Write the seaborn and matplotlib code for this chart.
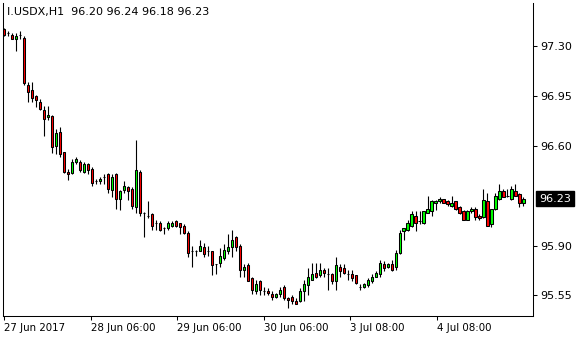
import numpy as np
import pandas as pd
import matplotlib
matplotlib.use("Agg")
import matplotlib.pyplot as plt
import seaborn as sns
from matplotlib.transforms import blended_transform_factory

# ---- data (H1 candles, I.USDX) ----
opens = [97.42, 97.39, 97.38, 97.35, 97.38, 97.36, 97.03, 96.99, 96.95, 96.91,
         96.85, 96.80, 96.81, 96.60, 96.70, 96.56, 96.42, 96.41, 96.49, 96.49,
         96.42, 96.47, 96.44, 96.35, 96.35, 96.38, 96.40, 96.29, 96.40, 96.23,
         96.29, 96.31, 96.30, 96.17, 96.42, 96.13, 96.11, 96.12, 96.06, 96.06,
         96.02, 96.02, 96.04, 96.07, 96.06, 96.04, 95.99, 95.86, 95.86, 95.86,
         95.89, 95.86, 95.86, 95.77, 95.78, 95.81, 95.86, 95.89, 95.96, 95.90,
         95.73, 95.76, 95.67, 95.58, 95.65, 95.58, 95.58, 95.56, 95.54, 95.56,
         95.61, 95.53, 95.54, 95.51, 95.51, 95.58, 95.62, 95.66, 95.71, 95.69,
         95.73, 95.70, 95.70, 95.65, 95.75, 95.74, 95.70, 95.70, 95.69, 95.61,
         95.61, 95.62, 95.65, 95.68, 95.70, 95.77, 95.75, 95.77, 95.75, 95.85,
         96.00, 96.01, 96.04, 96.11, 96.07, 96.06, 96.13, 96.14, 96.20, 96.21,
         96.23, 96.21, 96.18, 96.21, 96.17, 96.14, 96.08, 96.14, 96.16, 96.11,
         96.10, 96.21, 96.05, 96.16, 96.23, 96.28, 96.25, 96.23, 96.28, 96.26,
         96.20]
highs = [97.43, 97.41, 97.39, 97.39, 97.41, 97.37, 97.05, 97.05, 96.96, 96.93,
         96.88, 96.88, 96.82, 96.72, 96.73, 96.56, 96.44, 96.51, 96.52, 96.50,
         96.49, 96.48, 96.45, 96.37, 96.38, 96.40, 96.41, 96.40, 96.41, 96.29,
         96.35, 96.32, 96.31, 96.64, 96.43, 96.135, 96.21, 96.13, 96.08, 96.07,
         96.03, 96.07, 96.07, 96.08, 96.06, 96.05, 96.00, 95.90, 95.87, 95.94,
         95.92, 95.90, 95.86, 95.77, 95.88, 95.91, 95.98, 96.01, 95.97, 95.91,
         95.77, 95.78, 95.68, 95.66, 95.66, 95.61, 95.60, 95.58, 95.57, 95.61,
         95.62, 95.54, 95.55, 95.53, 95.60, 95.66, 95.74, 95.78, 95.78, 95.78,
         95.74, 95.74, 95.71, 95.82, 95.77, 95.77, 95.73, 95.73, 95.69, 95.63,
         95.64, 95.67, 95.70, 95.72, 95.80, 95.79, 95.78, 95.80, 95.87, 96.01,
         96.02, 96.08, 96.14, 96.14, 96.14, 96.14, 96.25, 96.22, 96.22, 96.24,
         96.23, 96.22, 96.25, 96.21, 96.18, 96.15, 96.15, 96.17, 96.17, 96.12,
         96.30, 96.27, 96.16, 96.27, 96.33, 96.30, 96.30, 96.32, 96.33, 96.27,
         96.24]
lows = [97.37, 97.37, 97.35, 97.27, 97.35, 97.03, 96.91, 96.91, 96.87, 96.85,
        96.67, 96.78, 96.55, 96.54, 96.52, 96.41, 96.36, 96.40, 96.47, 96.42,
        96.41, 96.40, 96.32, 96.33, 96.33, 96.33, 96.27, 96.24, 96.16, 96.15,
        96.27, 96.22, 96.16, 96.13, 96.11, 95.96, 96.09, 96.01, 96.01, 96.00,
        95.98, 96.01, 96.03, 96.03, 95.98, 95.98, 95.82, 95.75, 95.83, 95.86,
        95.82, 95.83, 95.69, 95.70, 95.75, 95.80, 95.84, 95.82, 95.86, 95.68,
        95.68, 95.65, 95.56, 95.56, 95.55, 95.55, 95.55, 95.52, 95.53, 95.54,
        95.52, 95.46, 95.49, 95.49, 95.50, 95.51, 95.55, 95.66, 95.67, 95.68,
        95.68, 95.59, 95.63, 95.59, 95.68, 95.70, 95.66, 95.65, 95.63, 95.59,
        95.60, 95.61, 95.64, 95.68, 95.68, 95.72, 95.74, 95.72, 95.73, 95.84,
        95.94, 96.00, 96.03, 96.00, 96.05, 96.05, 96.13, 96.11, 96.15, 96.20,
        96.20, 96.18, 96.17, 96.15, 96.12, 96.08, 96.08, 96.13, 96.08, 96.08,
        96.09, 96.04, 96.03, 96.15, 96.22, 96.24, 96.24, 96.22, 96.25, 96.17,
        96.18]
closes = [97.38, 97.39, 97.35, 97.37, 97.38, 97.04, 96.98, 96.94, 96.92, 96.86,
          96.79, 96.82, 96.59, 96.69, 96.54, 96.42, 96.40, 96.49, 96.51, 96.43,
          96.47, 96.43, 96.34, 96.35, 96.37, 96.38, 96.30, 96.38, 96.23, 96.28,
          96.32, 96.28, 96.18, 96.43, 96.13, 96.13, 96.11, 96.04, 96.06, 96.01,
          96.02, 96.06, 96.06, 96.04, 96.03, 95.99, 95.85, 95.86, 95.86, 95.90,
          95.84, 95.86, 95.76, 95.77, 95.83, 95.87, 95.89, 95.94, 95.89, 95.73,
          95.75, 95.65, 95.59, 95.63, 95.59, 95.58, 95.57, 95.54, 95.56, 95.59,
          95.53, 95.52, 95.51, 95.49, 95.58, 95.63, 95.68, 95.70, 95.68, 95.73,
          95.71, 95.70, 95.65, 95.76, 95.72, 95.71, 95.70, 95.67, 95.64, 95.61,
          95.63, 95.66, 95.68, 95.71, 95.78, 95.74, 95.77, 95.73, 95.85, 95.99,
          96.02, 96.06, 96.12, 96.06, 96.07, 96.14, 96.16, 96.21, 96.21, 96.23,
          96.20, 96.19, 96.20, 96.16, 96.13, 96.08, 96.14, 96.16, 96.10, 96.09,
          96.22, 96.04, 96.16, 96.25, 96.28, 96.24, 96.25, 96.30, 96.25, 96.20,
          96.23]

x_tick_labels = ["27 Jun 2017", "28 Jun 06:00", "29 Jun 06:00",
                 "30 Jun 06:00", "3 Jul 08:00", "4 Jul 08:00"]
y_tick_values = [95.55, 95.90, 96.60, 96.95, 97.30]
symbol = "I.USDX,H1"

# ---- build frame ----
df = pd.DataFrame({"open": opens, "high": highs, "low": lows, "close": closes})
df["idx"] = np.arange(len(df))
df["bottom"] = df[["open", "close"]].min(axis=1)
df["height"] = (df["close"] - df["open"]).abs()
df["color"] = np.where(df["close"] > df["open"], "#00ff00",
                       np.where(df["close"] < df["open"], "#ff0000", "black"))

sns.set_theme(style="white")
plt.rcParams["font.family"] = ["DejaVu Sans"]

fig = plt.figure(figsize=(5.8, 3.4), dpi=100)
fig.patch.set_facecolor("white")
ax = fig.add_axes([3 / 580, 24 / 340, 530 / 580, 313 / 340])
ax.set_facecolor("white")

# wicks
ax.vlines(df["idx"], df["low"], df["high"], color="black", lw=0.8, zorder=1)
# bodies
ax.bar(df["idx"], df["height"], bottom=df["bottom"], width=0.55,
       color=df["color"], edgecolor="black", linewidth=0.75, zorder=2)

n = len(df)
ax.set_xlim(-0.3, 132.4)
ax.set_ylim(95.405, 97.604)

# x ticks evenly across the candle span
xt = np.linspace(0, n - 1, 7)[:6]
ax.set_xticks(xt)
ax.set_xticklabels(x_tick_labels, fontsize=7.4, ha="left", color="black")
ax.set_yticks(y_tick_values)
ax.set_yticklabels([f"{v:.2f}" for v in y_tick_values], fontsize=8, color="black")
ax.yaxis.tick_right()
ax.tick_params(axis="y", direction="out", length=3, width=0.75, pad=2,
               right=True, left=False, colors="black")
ax.tick_params(axis="x", direction="out", length=3, width=0.75, pad=2,
               bottom=True, colors="black")
for lab in ax.get_yticklabels():
    lab.set_color("black")

for side in ["left", "right", "bottom"]:
    ax.spines[side].set_visible(True)
    ax.spines[side].set_color("black")
    ax.spines[side].set_linewidth(0.75)
ax.spines["top"].set_visible(False)
ax.grid(False)

# current price tag
last = df["close"].iloc[-1]
trans = blended_transform_factory(ax.transAxes, ax.transData)
ax.annotate(f"{last:.2f}", xy=(1, last), xycoords=trans,
            xytext=(4.5, 0), textcoords="offset points",
            va="center", ha="left", color="white", fontsize=8,
            bbox=dict(boxstyle="square,pad=0.25", fc="black", ec="black"),
            annotation_clip=False, zorder=5)

# header text
o, h, l, c = df.iloc[-1][["open", "high", "low", "close"]]
fig.text(7 / 580, 1 - 12 / 340,
         f"{symbol}  {o:.2f} {h:.2f} {l:.2f} {c:.2f}",
         fontsize=8, color="black", va="center", ha="left")

fig.savefig("out.png", dpi=100, facecolor="white")
